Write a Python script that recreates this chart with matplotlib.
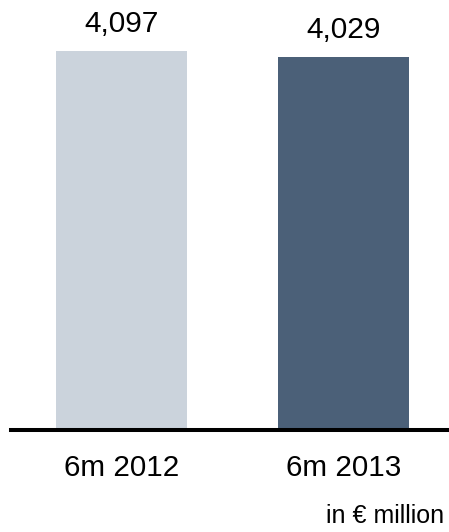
import numpy as np
import matplotlib.pyplot as plt

plt.rcParams['font.family'] = ['Liberation Sans', 'DejaVu Sans']

categories = ['6m 2012', '6m 2013']
values = [4097, 4029]
value_labels = ['4,097', '4,029']
colors = ['#CBD3DC', '#4B6078']
unit_note = 'in \u20ac million'

W, H = 449, 532
fig = plt.figure(figsize=(W / 100, H / 100), dpi=100)
# axes spans from x=11px to right edge, baseline at 430px from top
ax = fig.add_axes([11 / W, (H - 430) / H, 438 / W, 430 / H])

x = np.arange(len(categories))
ax.bar(x, values, width=0.59, color=colors, zorder=1)

ax.set_xlim(-0.498, 1.475)
ax.set_ylim(0, 4097 * 430 / 379)

for xi, v, lab in zip(x, values, value_labels):
    ax.annotate(lab, (xi, v), xytext=(0, 13.7), textcoords='offset points',
                ha='center', va='baseline', fontsize=21.5, color='black')

for s in ['top', 'right', 'left']:
    ax.spines[s].set_visible(False)
ax.spines['bottom'].set_linewidth(2.9)
ax.spines['bottom'].set_color('black')
ax.spines['bottom'].set_zorder(3)

ax.set_yticks([])
ax.set_xticks(x)
ax.set_xticklabels(categories, fontsize=21.3)
ax.tick_params(axis='x', length=0, pad=17)

fig.text(444 / W, (H - 523) / H, unit_note, ha='right', va='baseline', fontsize=18)

fig.savefig('out.png', dpi=100)
